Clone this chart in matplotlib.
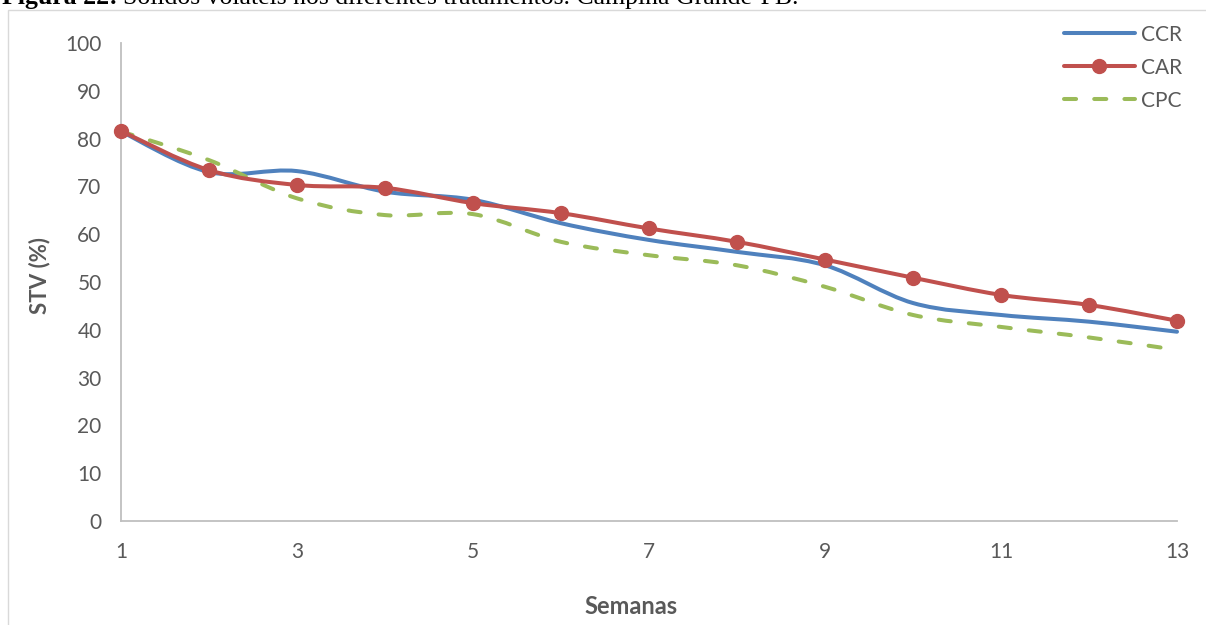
import numpy as np
import matplotlib
matplotlib.use("Agg")
import matplotlib.pyplot as plt
from matplotlib.path import Path
from matplotlib.patches import PathPatch, Rectangle
from matplotlib.lines import Line2D

weeks = [1, 2, 3, 4, 5, 6, 7, 8, 9, 10, 11, 12, 13]
ccr = [81.5, 73.0, 73.2, 68.9, 67.2, 62.3, 58.8, 56.3, 53.5, 45.6, 43.1, 41.7, 39.6]
car = [81.6, 73.4, 70.3, 69.7, 66.5, 64.4, 61.2, 58.4, 54.7, 50.9, 47.3, 45.2, 41.9]
cpc = [81.5, 75.5, 67.5, 64.0, 64.2, 58.4, 55.6, 53.5, 49.0, 43.1, 40.6, 38.4, 35.8]
series_names = ["CCR", "CAR", "CPC"]
yticks = [0, 10, 20, 30, 40, 50, 60, 70, 80, 90, 100]
xticks = [1, 3, 5, 7, 9, 11, 13]

BLUE = "#4F81BD"
RED = "#C0504D"
GREEN = "#9BBB59"
GRAY_TXT = "#595959"
FONT = "Lato"


def smooth_path(x, y):
    x = np.asarray(x, float)
    y = np.asarray(y, float)
    pts = np.column_stack([x, y])
    n = len(pts)
    verts = [pts[0]]
    codes = [Path.MOVETO]
    for i in range(n - 1):
        p0 = pts[i - 1] if i > 0 else pts[i]
        p1 = pts[i]
        p2 = pts[i + 1]
        p3 = pts[i + 2] if i + 2 < n else pts[i + 1]
        c1 = p1 + (p2 - p0) / 6.0
        c2 = p2 - (p3 - p1) / 6.0
        verts += [c1, c2, p2]
        codes += [Path.CURVE4] * 3
    return Path(verts, codes)


fig = plt.figure(figsize=(12.06, 6.25), dpi=100)

# chart frame
fig.patches.append(Rectangle((8 / 1206, -0.2), 1.2, 1.2 - 10 / 625,
                             transform=fig.transFigure, fill=False,
                             edgecolor="#D9D9D9", linewidth=1.0))

ax = fig.add_axes([121 / 1206, 104 / 625, 1056 / 1206, 478 / 625])
ax.set_xlim(1, 13)
ax.set_ylim(0, 100)
for s in ["top", "right"]:
    ax.spines[s].set_visible(False)
for s in ["left", "bottom"]:
    ax.spines[s].set_color("#BFBFBF")
    ax.spines[s].set_linewidth(1.3)
ax.set_xticks(xticks)
ax.set_yticks(yticks)
ax.tick_params(length=0, labelsize=15, labelcolor=GRAY_TXT, pad=14)
ax.tick_params(axis="x", pad=15)
for lab in ax.get_xticklabels() + ax.get_yticklabels():
    lab.set_fontfamily(FONT)

lw = 2.9
# CCR
ax.add_patch(PathPatch(smooth_path(weeks, ccr), fill=False, edgecolor=BLUE,
                       linewidth=lw, capstyle="round", joinstyle="round", clip_on=False))
# CPC
ax.add_patch(PathPatch(smooth_path(weeks, cpc), fill=False, edgecolor=GREEN,
                       linewidth=lw, linestyle=(0, (3, 4.5)), capstyle="round",
                       joinstyle="round", clip_on=False))
# CAR
ax.add_patch(PathPatch(smooth_path(weeks, car), fill=False, edgecolor=RED,
                       linewidth=lw, capstyle="round", joinstyle="round", clip_on=False))
ax.plot(weeks, car, linestyle="none", marker="o", markersize=10,
        color=RED, clip_on=False, zorder=5)

ax.set_ylabel("STV (%)", fontsize=16, fontweight="bold", color=GRAY_TXT, family=FONT)
ax.set_xlabel("Semanas", fontsize=17, fontweight="bold", color=GRAY_TXT, family=FONT)
ax.yaxis.set_label_coords((40 - 121) / 1056, (521 - 276) / 478)
ax.xaxis.set_label_coords((631 - 121) / 1056, -(606 - 521) / 478)
ax.xaxis.label.set_va("center")
ax.yaxis.label.set_va("center")

# legend
handles = [
    Line2D([], [], color=BLUE, lw=lw, solid_capstyle="round"),
    Line2D([], [], color=RED, lw=lw, marker="o", markersize=10, solid_capstyle="round"),
    Line2D([], [], color=GREEN, lw=lw, linestyle=(0, (3, 4.5)), dash_capstyle="round"),
]
leg = fig.legend(handles, series_names, loc="upper left",
                 bbox_to_anchor=(1045 / 1206, 1 - 6 / 625), frameon=False,
                 handlelength=3.4, handletextpad=0.3, labelspacing=0.62,
                 prop={"family": FONT, "size": 15}, labelcolor=GRAY_TXT)

# title (cut off at top, as in the source)
t1 = fig.text(2 / 1206, 1 - 4 / 625, "Figura 22:", family="Liberation Serif",
              fontweight="bold", fontsize=18.5, va="baseline", ha="left", color="black")
fig.canvas.draw()
bb = t1.get_window_extent()
fig.text(bb.x1 / 1206 + 5 / 1206, 1 - 4 / 625,
         "Sólidos voláteis nos diferentes tratamentos. Campina Grande-PB.",
         family="Liberation Serif", fontsize=18.5, va="baseline", ha="left", color="black")

fig.savefig("out.png", dpi=100)
